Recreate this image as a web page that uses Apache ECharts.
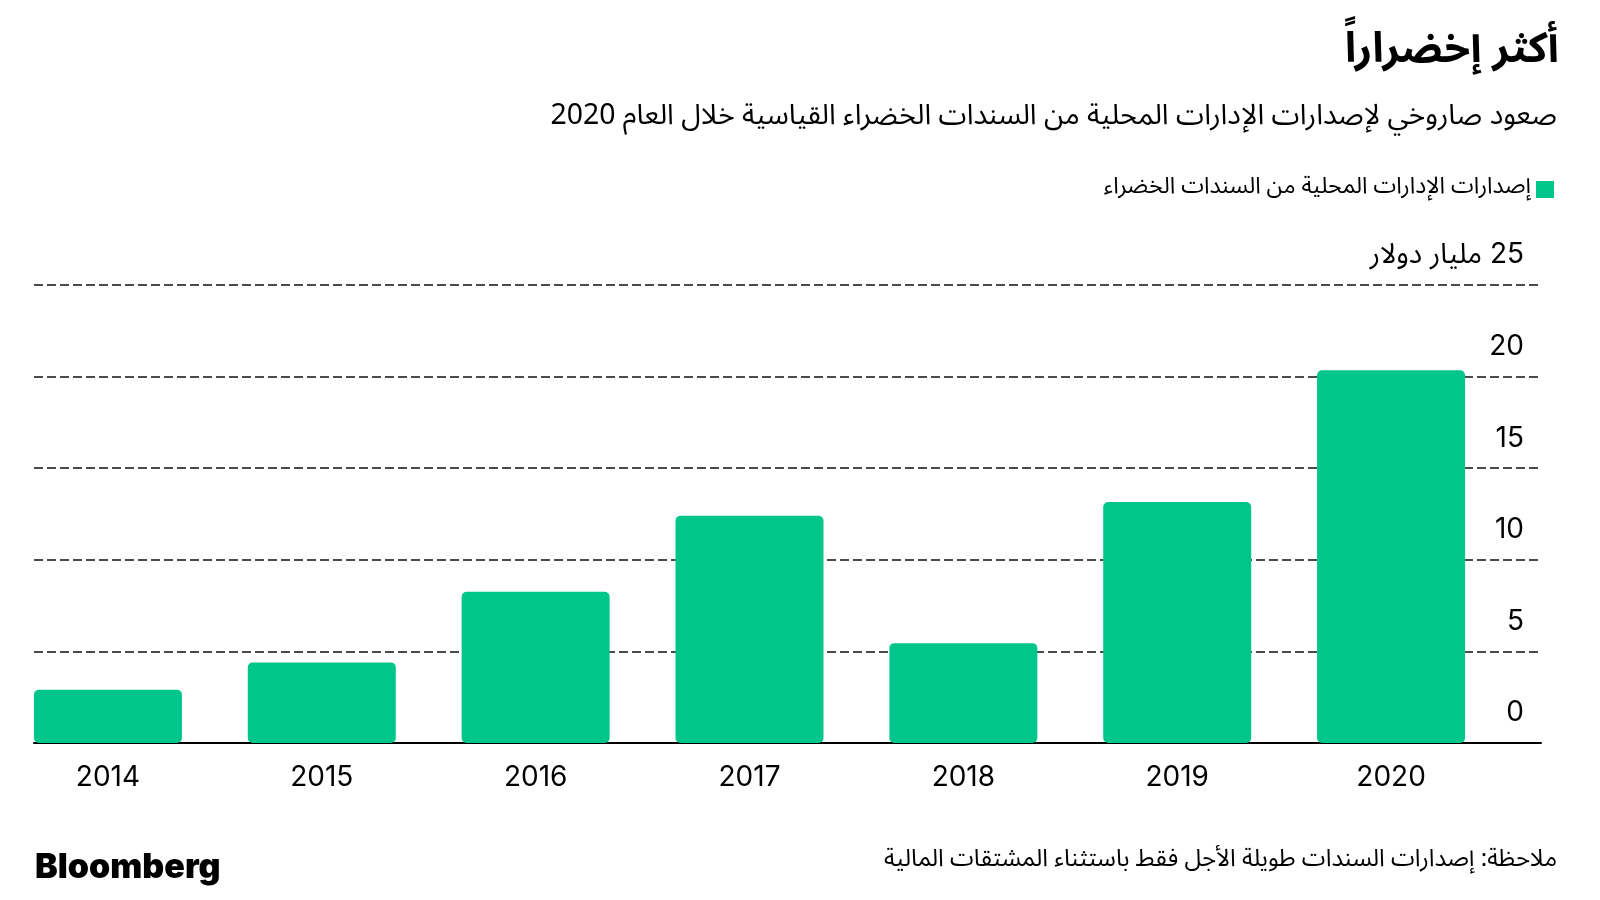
<!DOCTYPE html>
<html>
<head>
<meta charset="utf-8">
<script src="https://cdn.jsdelivr.net/npm/echarts@6/dist/echarts.min.js"></script>
<style>
html,body{margin:0;padding:0;background:#fff;}
#c{width:1600px;height:900px;}
</style>
</head>
<body>
<div id="c" dir="rtl"></div>
<script>
const years = ['2014','2015','2016','2017','2018','2019','2020'];
const issuance = [2.9, 4.4, 8.25, 12.4, 5.45, 13.15, 20.35];
const yTicks = [0, 5, 10, 15, 20, 25];
const seriesName = 'إصدارات الإدارات المحلية من السندات الخضراء';
const titleText = 'أكثر إخضراراً';
const subtitleText = 'صعود صاروخي لإصدارات الإدارات المحلية من السندات الخضراء القياسية خلال العام 2020';
const noteText = 'ملاحظة: إصدارات السندات طويلة الأجل فقط باستثناء المشتقات المالية';
const unitText = 'مليار دولار';

const AR = '"Noto Sans Arabic", "DejaVu Sans", sans-serif';
const LAT = 'Inter, "Noto Sans Arabic", "DejaVu Sans", sans-serif';

const chart = echarts.init(document.getElementById('c'), null, {renderer: 'canvas'});
chart.setOption({
  backgroundColor: '#ffffff',
  animation: false,
  title: [
    {text: titleText, right: 36, top: 30, textStyle: {fontFamily: AR, fontSize: 42, fontWeight: 'bold', color: '#000'}},
    {text: subtitleText, right: 38, top: 101, textStyle: {fontFamily: AR, fontSize: 28.4, fontWeight: 'normal', color: '#000'}},
    {text: noteText, right: 38, top: 845, textStyle: {fontFamily: AR, fontSize: 24, fontWeight: 'normal', color: '#000'}},
    {text: 'Bloomberg', left: 30, top: 846, textStyle: {fontFamily: LAT, fontSize: 34, fontWeight: 900, color: '#000'}}
  ],
  legend: {
    right: 41, top: 173, align: 'right', icon: 'rect', itemWidth: 18, itemHeight: 17, itemGap: 10,
    textStyle: {fontFamily: AR, fontSize: 23, color: '#000'},
    data: [seriesName]
  },
  grid: [
    {left: 34, right: 59, top: 285, bottom: 157},
    {left: 1, right: 102, top: 285, bottom: 157}
  ],
  xAxis: [
    {gridIndex: 0, type: 'value', min: 0, max: 1, show: true,
     axisLine: {show: true, onZero: false, lineStyle: {color: '#000', width: 2}},
     axisTick: {show: false}, axisLabel: {show: false}, splitLine: {show: false}},
    {gridIndex: 1, type: 'category', data: years,
     axisLine: {show: false}, axisTick: {show: false},
     axisLabel: {margin: 21, fontFamily: LAT, fontSize: 28, color: '#000'}}
  ],
  yAxis: [
    {gridIndex: 0, type: 'value', position: 'right', min: 0, max: 25, interval: 5,
     axisLine: {show: false}, axisTick: {show: false},
     axisLabel: {inside: true, margin: 17, verticalAlign: 'bottom', padding: [0, 0, 16, 0],
       fontFamily: LAT, fontSize: 28, color: '#000',
       formatter: v => v === yTicks[yTicks.length - 1] ? v + ' ' + unitText : String(v)},
     splitLine: {show: true, lineStyle: {color: '#111', width: 1.6, type: [9, 4]}}},
    {gridIndex: 1, type: 'value', min: 0, max: 25, interval: 5, show: false}
  ],
  series: [{
    name: seriesName, type: 'bar', xAxisIndex: 1, yAxisIndex: 1,
    data: issuance, barWidth: 148,
    itemStyle: {color: '#00c68b', borderRadius: 5}
  }]
});
</script>
</body>
</html>
